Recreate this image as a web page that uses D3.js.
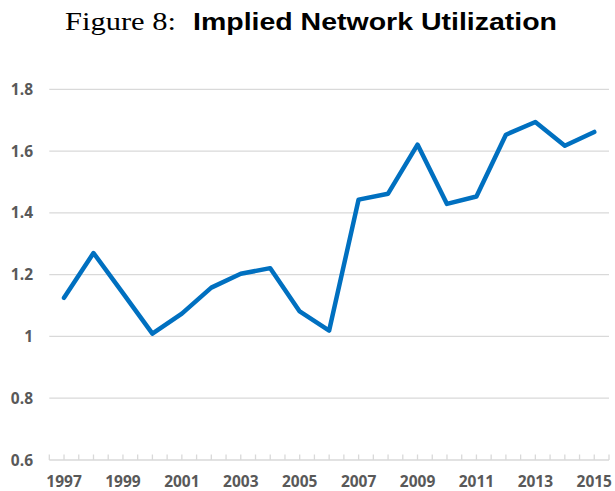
<!DOCTYPE html>
<html>
<head>
<meta charset="utf-8">
<script src="https://cdn.jsdelivr.net/npm/d3@7"></script>
<style>
  body { margin: 0; background: #fff; }
  svg { display: block; }
</style>
</head>
<body>
<svg id="chart" width="615" height="491"></svg>
<script>
const years = ["1997", "1998", "1999", "2000", "2001", "2002", "2003", "2004", "2005", "2006",
               "2007", "2008", "2009", "2010", "2011", "2012", "2013", "2014", "2015"]
const utilization = [1.125, 1.270, 1.140, 1.009, 1.074, 1.158, 1.203, 1.221, 1.081, 1.019,
                     1.443, 1.462, 1.621, 1.429, 1.453, 1.653, 1.694, 1.617, 1.662]
const yTicks = [0.6, 0.8, 1.0, 1.2, 1.4, 1.6, 1.8]
const xLabels = ["1997", "1999", "2001", "2003", "2005", "2007", "2009", "2011", "2013", "2015"]

const svg = d3.select("#chart")
const labelFont = "'Open Sans', 'Liberation Sans', sans-serif"

// scales
const x = d3.scaleBand().domain(years).range([49.3, 609]).padding(0)
const y = d3.scaleLinear().domain([0.6, 1.8]).range([460, 89.3])
const cx = d => x(d) + x.bandwidth() / 2

// title
svg.append("text")
  .attr("x", 65).attr("y", 30)
  .attr("textLength", 111).attr("lengthAdjust", "spacingAndGlyphs")
  .style("font-family", "'Liberation Serif', 'DejaVu Serif', serif")
  .style("font-size", "25px")
  .style("fill", "#000")
  .text("Figure 8:")

svg.append("text")
  .attr("x", 193).attr("y", 30)
  .attr("textLength", 364).attr("lengthAdjust", "spacingAndGlyphs")
  .style("font-family", "'Liberation Sans', Arial, sans-serif")
  .style("font-weight", "bold")
  .style("font-size", "23.5px")
  .style("fill", "#000")
  .text("Implied Network Utilization")

// gridlines
svg.append("g")
  .selectAll("line")
  .data(yTicks.slice(1))
  .join("line")
  .attr("x1", 49.3).attr("x2", 609)
  .attr("y1", d => y(d)).attr("y2", d => y(d))
  .style("stroke", "#d9d9d9")
  .style("stroke-width", 1.3)

// y labels
svg.append("g")
  .selectAll("text")
  .data(yTicks)
  .join("text")
  .attr("x", 33)
  .attr("y", d => y(d) + 5.5)
  .attr("text-anchor", "end")
  .style("font-family", labelFont)
  .style("font-weight", "bold")
  .style("font-size", "15.5px")
  .style("fill", "#595959")
  .text(d => d3.format("~g")(d))

// x axis line + ticks (boundaries and centres)
const tickXs = []
years.forEach(d => { tickXs.push(x(d)); tickXs.push(cx(d)) })
tickXs.push(x.range()[1])

const xAxis = svg.append("g")
xAxis.append("line")
  .attr("x1", 49.3).attr("x2", 609)
  .attr("y1", y(0.6)).attr("y2", y(0.6))
  .style("stroke", "#d9d9d9")
  .style("stroke-width", 1.3)
xAxis.selectAll("line.tick")
  .data(tickXs)
  .join("line")
  .attr("class", "tick")
  .attr("x1", d => d).attr("x2", d => d)
  .attr("y1", y(0.6) - 5.5).attr("y2", y(0.6))
  .style("stroke", "#d9d9d9")
  .style("stroke-width", 1.3)

xAxis.selectAll("text")
  .data(xLabels)
  .join("text")
  .attr("x", d => cx(d))
  .attr("y", 487)
  .attr("text-anchor", "middle")
  .style("font-family", labelFont)
  .style("font-weight", "bold")
  .style("font-size", "15.5px")
  .style("fill", "#595959")
  .text(d => d)

// the series line
const line = d3.line()
  .x((d, i) => cx(years[i]))
  .y(d => y(d))

svg.append("path")
  .datum(utilization)
  .attr("d", line)
  .style("fill", "none")
  .style("stroke", "#0070c0")
  .style("stroke-width", 4.5)
  .style("stroke-linejoin", "round")
  .style("stroke-linecap", "round")
</script>
</body>
</html>
